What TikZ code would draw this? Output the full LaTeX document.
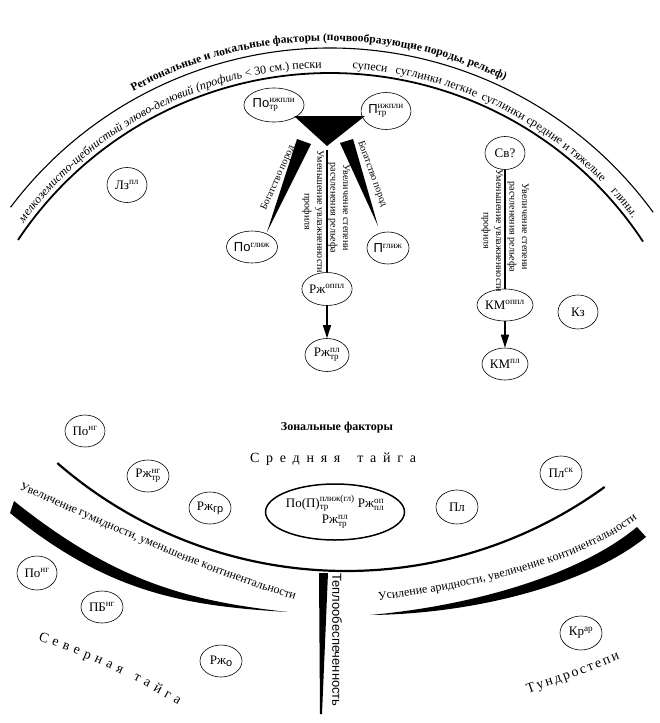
\documentclass[tikz,border=0pt]{standalone}
\usepackage{fontspec}
\usepackage{amsmath}
\setmainfont{Liberation Serif}
\newfontfamily\sansf{Liberation Sans}
\usetikzlibrary{shapes.geometric,decorations.text,arrows.meta}
\begin{document}
\begin{tikzpicture}[x=1pt,y=1pt,
  el/.style={draw, ellipse, inner sep=0pt, line width=0.6pt, fill=white,
    font=\fontsize{13}{15}\selectfont},
  vtext/.style={rotate=-90, align=center, font=\fontsize{10}{12.5}\selectfont},
  arr/.style={line width=1.3pt, -{Triangle[length=13pt,width=8pt]}}]
\useasboundingbox (0,0) rectangle (660,-723);
\fill[white] (0,0) rectangle (660,-723);

% ---------- top arcs ----------
\draw[line width=1.1pt, shift={(330,-448)}] (143:400) arc[start angle=143, end angle=36.1, radius=400pt];
\draw[line width=1.8pt, shift={(330,-448)}] (146.3:375) arc[start angle=146.3, end angle=33.4, radius=375pt];

\path[shift={(330,-448)}, decorate, decoration={text along path, text align=center,
  text={|\fontsize{11.5}{14}\selectfont\bfseries|Региональные и локальные факторы (почвообразующие породы, рельеф)}}]
  (137:407) arc[start angle=137, end angle=46.5, radius=407pt];

\path[shift={(330,-448)}, decorate, decoration={text along path, text align=center,
  text={|\fontsize{12}{14}\selectfont\itshape|мелкоземисто-щебнистый элюво-делювий (профиль |\fontsize{12}{14}\selectfont|< 30 см.) пески}}]
  (159:380) arc[start angle=159, end angle=76, radius=380pt];
\path[shift={(330,-448)}, decorate, decoration={text along path, text align=center,
  text={|\fontsize{12}{14}\selectfont|супеси}}]
  (99:380) arc[start angle=99, end angle=69, radius=380pt];
\path[shift={(330,-448)}, decorate, decoration={text along path, text align=center,
  text={|\fontsize{12}{14}\selectfont|суглинки легкие}}]
  (93:380) arc[start angle=93, end angle=54.6, radius=380pt];
\path[shift={(330,-448)}, decorate, decoration={text along path, text align=center,
  text={|\fontsize{12}{14}\selectfont|суглинки средние и тяжелые}}]
  (84:380) arc[start angle=84, end angle=27, radius=380pt];
\path[shift={(330,-448)}, decorate, decoration={text along path, text align=center,
  text={|\fontsize{12}{14}\selectfont|глины.}}]
  (52:380) arc[start angle=52, end angle=27.6, radius=380pt];

% ---------- top nodes ----------
\node[el, minimum width=52, minimum height=34] (n1) at (274,-105) {{\sansf По}$^{\text{ижпли}}_{\text{тр}}$};
\node[el, minimum width=42, minimum height=37] (n2) at (386,-111) {{\sansf П}$^{\text{ижпли}}_{\text{тр}}$};
\node[el, minimum width=40, minimum height=35] (lz) at (127,-185) {Лз$^{\text{пл}}$};
\node[el, minimum width=48, minimum height=32] (pogl) at (252,-247) {{\sansf По}$^{\text{глиж}}$};
\node[el, minimum width=42, minimum height=32] (pgl) at (388,-248) {{\sansf П}$^{\text{глиж}}$};
\node[el, minimum width=46, minimum height=33] (rj1) at (327,-289) {Рж$^{\text{оппл}}$};
\node[el, minimum width=44, minimum height=33] (rj2) at (327,-355) {Рж$^{\text{пл}}_{\text{тр}}$};
\node[el, minimum width=40, minimum height=33] (sv) at (505,-153) {Св?};
\node[el, minimum width=56, minimum height=32] (km1) at (505,-305) {КМ$^{\text{оппл}}$};
\node[el, minimum width=46, minimum height=32] (km2) at (505,-364) {КМ$^{\text{пл}}$};
\node[el, minimum width=40, minimum height=34] (kz) at (578,-312) {Кз};

% triangle and wedges
\fill (294,-116) -- (365,-116) -- (327,-146) -- cycle;
\fill (297,-139) -- (311,-144) -- (267,-232) -- cycle;
\fill (340,-143) -- (353,-139) -- (378,-226) -- cycle;
\coordinate (apex) at (327,-150);

\node[rotate=66, font=\fontsize{10}{12}\selectfont] (bp1) at (278,-178) {Богатство пород};
\node[rotate=-70, font=\fontsize{10}{12}\selectfont] (bp2) at (372,-174) {Богатство пород};

\node[vtext] (ta1) at (339,-208) {Увеличение степени\\расчленения рельефа};
\node[vtext] (tb1) at (313,-212) {Уменьшение увлажненности\\профиля};
\node[vtext] (ta2) at (518,-227) {Увеличение степени\\расчленения рельефа};
\node[vtext] (tb2) at (492,-231) {Уменьшение увлажненности\\профиля};

\draw[line width=1.3pt] (apex) -- (rj1.north);
\draw[line width=1.8pt] (sv.south) -- (km1.north);
\draw[arr] (rj1) -- (rj2);
\draw[arr] (km1) -- (km2);

% ---------- bottom ----------
\node[font=\fontsize{12}{14}\selectfont\bfseries] (zon) at (337,-428) {Зональные факторы};
\path[decorate, decoration={text along path, text align=fit to path,
  text={|\fontsize{14}{16}\selectfont|Средняя тайга}}] (250,-462) -- (416,-462);

\draw[line width=2.2pt, shift={(346,-131)}] (229:440) arc[start angle=229, end angle=306, radius=440pt];

\fill (14,-501) .. controls (114,-581) and (187,-601) .. (288,-612)
  .. controls (185,-606) and (108,-593) .. (10,-513) -- cycle;
\fill (370,-615) .. controls (470,-606) and (578,-576) .. (637,-527) -- (646,-537)
  .. controls (585,-586) and (472,-614) .. (370,-615) -- cycle;
\fill (319,-573) -- (328,-573) -- (322,-714) -- (320,-714) -- cycle;

\path[decorate, decoration={text along path, text align=center,
  text={|\fontsize{12}{14}\selectfont|Увеличение гумидности, уменьшение континентальности}}]
  (14,-487) .. controls (110,-528) and (200,-572) .. (300,-601);
\path[decorate, decoration={text along path, text align=center,
  text={|\fontsize{12}{14}\selectfont|Усиление аридности, увеличение континентальности}}]
  (370,-601) .. controls (460,-591) and (580,-566) .. (644,-514);

\node[rotate=-90, font=\fontsize{13}{15}\sansf] (tep) at (337,-640) {Теплообеспеченность};

\path[decorate, decoration={text along path, text align=fit to path,
  text={|\fontsize{14}{16}\selectfont|Северная тайга}}]
  (38,-640) .. controls (80,-655) and (130,-675) .. (178,-705);
\path[decorate, decoration={text along path, text align=fit to path,
  text={|\fontsize{14}{16}\selectfont|Тундростепи}}]
  (528,-693) .. controls (555,-684) and (590,-672) .. (620,-659);

\node[el, minimum width=40, minimum height=32] (ponga) at (85,-431) {По$^{\text{нг}}$};
\node[el, minimum width=42, minimum height=32] (rjng) at (148,-476) {Рж$^{\text{нг}}_{\text{тр}}$};
\node[el, minimum width=42, minimum height=32] (rjgr) at (210,-508) {Рж\raisebox{-0.35ex}{\fontsize{11}{13}\sansf гр}};
\node[el, line width=1.5pt, minimum width=118, minimum height=56, align=center] (big) at (335,-512)
  {По(П)$^{\text{плиж(гл)}}_{\text{тр}}$ Рж$^{\text{оп}}_{\text{пл}}$\\[1pt]Рж$^{\text{пл}}_{\text{тр}}$};
\node[el, minimum width=42, minimum height=34] (pl) at (457,-507) {Пл};
\node[el, minimum width=42, minimum height=34] (plsk) at (561,-473) {Пл$^{\text{ск}}$};
\node[el, minimum width=40, minimum height=34] (pongb) at (37,-573) {По$^{\text{нг}}$};
\node[el, minimum width=42, minimum height=32] (pbng) at (102,-607) {ПБ$^{\text{нг}}$};
\node[el, minimum width=42, minimum height=32] (rjo) at (221,-661) {Рж\raisebox{-0.35ex}{\fontsize{11}{13}\sansf о}};
\node[el, minimum width=42, minimum height=34] (kr) at (581,-633) {Кр$^{\text{ар}}$};
\end{tikzpicture}
\end{document}
